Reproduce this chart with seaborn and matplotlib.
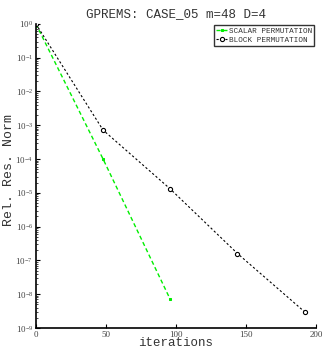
import matplotlib
matplotlib.use("Agg")
import matplotlib.pyplot as plt
import seaborn as sns
import pandas as pd
import numpy as np
from matplotlib.ticker import LogLocator, FixedLocator

sns.set_theme(style="white")
plt.rcParams['font.family'] = ['Liberation Mono', 'DejaVu Sans Mono']

scalar_iters = [0, 48, 96]
scalar_res = [1.0, 1.0e-4, 7.0e-9]
block_iters = [0, 48, 96, 144, 192]
block_res = [1.0, 7.2e-4, 1.3e-5, 1.6e-7, 3.0e-9]
series_names = ["SCALAR PERMUTATION", "BLOCK PERMUTATION"]
x_ticks = [0, 50, 100, 150, 200]

df = pd.concat([
    pd.DataFrame({"it": scalar_iters, "res": scalar_res, "s": series_names[0]}),
    pd.DataFrame({"it": block_iters, "res": block_res, "s": series_names[1]}),
])

fig = plt.figure(figsize=(3.26, 3.51), dpi=100)
ax = fig.add_axes([0.110, 0.0655, 0.859, 0.8665])

sns.lineplot(data=df[df.s == series_names[0]], x="it", y="res", ax=ax,
             color="#00ee00", linestyle=(0, (3, 2)), lw=1.0, marker='s', ms=1.5,
             mec="#00ee00", label=series_names[0])
sns.lineplot(data=df[df.s == series_names[1]], x="it", y="res", ax=ax,
             color="black", linestyle=(0, (2, 2)), lw=0.8, marker='o', ms=3,
             mfc='white', mec='black', mew=0.8, label=series_names[1])

ax.set_yscale('log')
ax.set_ylim(1e-9, 1)
ax.set_xlim(0, 200)
ax.yaxis.set_major_locator(LogLocator(base=10, numticks=20))
ax.yaxis.set_minor_locator(LogLocator(base=10, subs=np.arange(2, 10), numticks=20))
ax.xaxis.set_major_locator(FixedLocator(x_ticks))
ax.tick_params(axis='both', which='major', direction='in', length=3, width=0.8,
               labelsize=6.5, left=True, bottom=True, color='black', pad=2)
ax.tick_params(axis='y', which='minor', direction='in', length=1.5, width=0.6, left=True)
for lab in ax.get_xticklabels() + ax.get_yticklabels():
    lab.set_fontfamily('Liberation Serif')
    lab.set_color('#444444')

for s in ['top', 'right']:
    ax.spines[s].set_visible(False)
for s in ['left', 'bottom']:
    ax.spines[s].set_color('black')
    ax.spines[s].set_linewidth(1.2)

ax.set_title("GPREMS: CASE_05 m=48 D=4", fontsize=9, color='#333333', pad=5)
ax.set_xlabel("iterations", fontsize=9, color='#333333', labelpad=-1)
ax.set_ylabel("Rel. Res. Norm", fontsize=9.5, color='#333333')
ax.yaxis.set_label_coords(-0.075, 0.52)

leg = ax.legend(loc='upper right', fontsize=5.5, frameon=True, fancybox=False,
                borderpad=0.3, handlelength=1.5, handletextpad=0.2,
                labelspacing=0.2, borderaxespad=0.2)
leg.get_frame().set_edgecolor('black')
leg.get_frame().set_linewidth(1.0)
for t in leg.get_texts():
    t.set_color('#333333')

fig.savefig("out.png", dpi=100)
